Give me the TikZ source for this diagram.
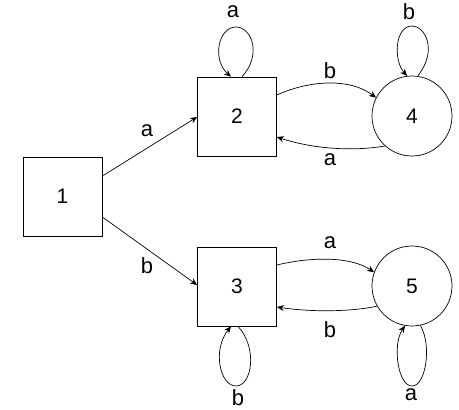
\documentclass[tikz,border=0pt]{standalone}
\usepackage{fontspec}
\setmainfont{Liberation Sans}
\usetikzlibrary{arrows.meta}
\begin{document}
\begin{tikzpicture}[x=1pt,y=-1pt,
  sq/.style={draw,line width=0.7pt,minimum width=79pt,minimum height=79pt,inner sep=0pt,font=\fontsize{21}{23}\selectfont},
  st/.style={draw,line width=0.7pt,circle,minimum size=80pt,inner sep=0pt,font=\fontsize{21}{23}\selectfont},
  edge/.style={draw,line width=0.7pt,-{Stealth[length=7pt,width=6pt]}},
  lbl/.style={font=\fontsize{22}{24}\selectfont,inner sep=0pt}]
\useasboundingbox (0,0) rectangle (459,410);
\node[sq] (n1) at (62.5,196.5) {1};
\node[sq] (n2) at (237,116.5) {2};
\node[sq] (n3) at (237,286.5) {3};
\node[st] (n4) at (412,116) {4};
\node[st] (n5) at (412,286) {5};
% 1 -> 2, 1 -> 3
\draw[edge] (n1.east |- 0,176) -- (n2.west |- 0,117);
\node[lbl] (la12) at (147,131) {a};
\draw[edge] (n1.east |- 0,217) -- (n3.west |- 0,285);
\node[lbl] (lb13) at (147,266) {b};
% 2 <-> 4
\draw[edge] (n2.east |- 0,95) .. controls (310,80) and (350,78) .. (n4.153);
\node[lbl] (lb24) at (330,71) {b};
\draw[edge] (n4.-132) .. controls (350,152) and (310,148) .. (n2.east |- 0,137);
\node[lbl] (la42) at (330,160) {a};
% 3 <-> 5
\draw[edge] (n3.east |- 0,265) .. controls (310,257) and (350,256) .. (n5.160);
\node[lbl] (la35) at (330,243) {a};
\draw[edge] (n5.-150) .. controls (350,312) and (310,312) .. (n3.east |- 0,307);
\node[lbl] (lb53) at (330,330) {b};
% self loops
\draw[edge] (n2.north -| 242,0) .. controls (262,55) and (252,27) .. (236,27) .. controls (218,27) and (212,60) .. (n2.north -| 231,0);
\node[lbl] (la22) at (233,12) {a};
\draw[edge] (n4.north -| 418,0) .. controls (438,50) and (425,26) .. (412,26) .. controls (395,26) and (393,60) .. (n4.97);
\node[lbl] (lb44) at (409,12) {b};
\draw[edge] (n3.south -| 238,0) .. controls (258,348) and (252,386) .. (236,386) .. controls (220,386) and (212,350) .. (n3.south -| 231,0);
\node[lbl] (lb33) at (238,398) {b};
\draw[edge] (n5.-78) .. controls (432,345) and (426,386) .. (412,386) .. controls (398,386) and (392,345) .. (n5.-100);
\node[lbl] (la55) at (411,395) {a};
\end{tikzpicture}
\end{document}
